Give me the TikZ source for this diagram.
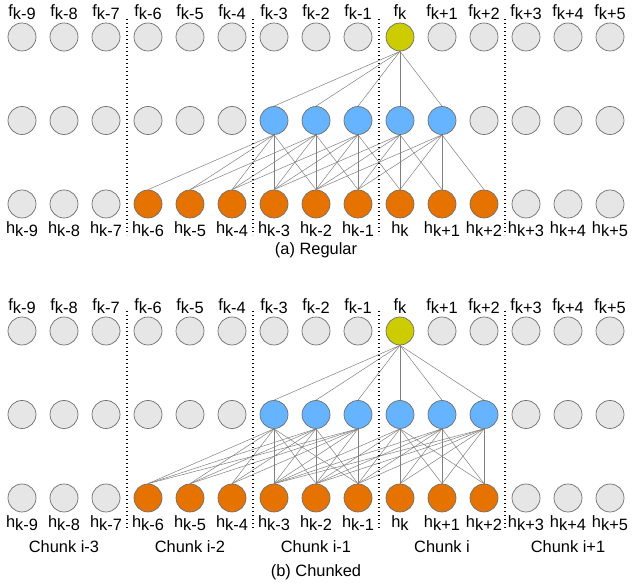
\documentclass[tikz,border=0pt]{standalone}
\usepackage{fontspec}
\setmainfont{Liberation Sans}
\usepackage{tikz}
\usetikzlibrary{positioning}

\definecolor{unitgray}{HTML}{E6E6E6}
\definecolor{unitedge}{HTML}{6E6E6E}
\definecolor{midblue}{HTML}{66B3FF}
\definecolor{hidorange}{HTML}{E67300}
\definecolor{outyellow}{HTML}{CCCC00}

\newcommand{\lbl}[2]{#1\raisebox{-0.4ex}{#2}}

\begin{document}
\begin{tikzpicture}[x=1pt, y=1pt,
font=\fontsize{16.4pt}{19pt}\selectfont,
unit/.style    = {circle, draw=unitedge, fill=unitgray, line width=0.7pt,
                  minimum size=28pt, inner sep=0pt},
midunit/.style = {unit, fill=midblue},
hidunit/.style = {unit, fill=hidorange},
outunit/.style = {unit, fill=outyellow},
link/.style    = {draw=gray, line width=0.5pt},
sep/.style     = {line width=1.2pt, dash pattern=on 1.2pt off 2.8pt},
txt/.style     = {inner sep=1pt}
                        ]
\useasboundingbox (0,0) rectangle (635,583);
\def\ya{546} \def\yb{252}
% units of both panels
\foreach \s [count=\i from 0] in {k-9,k-8,k-7,k-6,k-5,k-4,k-3,k-2,k-1,k,k+1,k+2,k+3,k+4,k+5}
{
\pgfmathsetmacro\x{22+42*\i}
\pgfmathsetmacro\sta{ifthenelse(\i==9,"outunit","unit")}
\pgfmathsetmacro\ma{ifthenelse(\i>5 && \i<11,"midunit","unit")}
\pgfmathsetmacro\mb{ifthenelse(\i>5 && \i<12,"midunit","unit")}
\pgfmathsetmacro\hs{ifthenelse(\i>2 && \i<12,"hidunit","unit")}
% (a)
\node[\sta] (fa\i) at (\x,\ya) {};
\node[\ma] (ma\i) at (\x,\ya-83.5) {};
\node[\hs] (ha\i) at (\x,\ya-167) {};
\node[txt, above=1.5pt of fa\i] {\lbl{f}{\s}};
\node[txt, below=2pt of ha\i] {\lbl{h}{\s}};
% (b)
\node[\sta] (fb\i) at (\x,\yb) {};
\node[\mb] (mb\i) at (\x,\yb-83.5) {};
\node[\hs] (hb\i) at (\x,\yb-167) {};
\node[txt, above=1.5pt of fb\i] {\lbl{f}{\s}};
\node[txt, below=2pt of hb\i] {\lbl{h}{\s}};
}
% regular window
\foreach \j in {6,...,10}
{
\draw[link] (fa9.south) -- (ma\j.north);
\foreach \d in {-3,...,1}
 {\pgfmathtruncatemacro\b{\j+\d}
  \draw[link] (ma\j.south) -- (ha\b.north);}
}
% chunked window
\foreach \j in {6,...,11}
{
\draw[link] (fb9.south) -- (mb\j.north);
\pgfmathtruncatemacro\c{3*floor(\j/3)-3}
\foreach \d in {0,...,5}
 {\pgfmathtruncatemacro\b{\c+\d}
  \draw[link] (mb\j.south) -- (hb\b.north);}
}
\foreach \i in {2,5,8,11}
{
\draw[sep] (22+42*\i+21,564) -- (22+42*\i+21,348);
\draw[sep] (22+42*\i+21,272) -- (22+42*\i+21,55);
}
\node (capa) at (316,333) {(a) Regular};
\foreach \n [count=\i from 0] in {i-3,i-2,i-1,i,i+1}
 \node (chunk\i) at (64+126*\i,36) {Chunk \n};
\node (capb) at (316,11) {(b) Chunked};
\end{tikzpicture}
\end{document}
